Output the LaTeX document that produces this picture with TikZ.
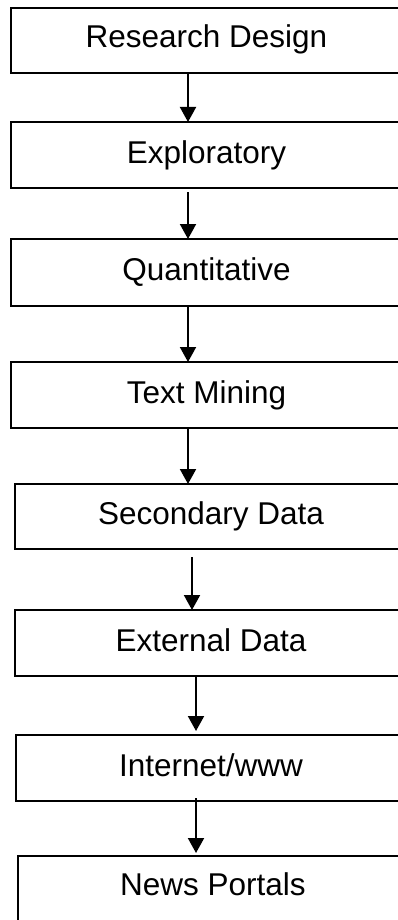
\documentclass[tikz,border=0pt]{standalone}
\usepackage{fontspec}
\setmainfont{Liberation Sans}
\usetikzlibrary{arrows.meta}
\begin{document}
\begin{tikzpicture}[x=1pt,y=-1pt,
  box/.style={draw=black, line width=2pt, rectangle, inner sep=0pt, outer sep=0pt,
    font=\fontsize{31.5}{37}\selectfont, text height=16pt, text depth=0pt},
  arr/.style={line width=2pt, -{Triangle[length=15pt,width=16pt]}}]
\clip (0,0) rectangle (398,920);
\node[box, minimum width=391pt, minimum height=65pt, text height=15pt] (b1) at (206.5,40.5) {Research Design};
\node[box, minimum width=391pt, minimum height=66pt, text height=17pt] (b2) at (206.5,155) {Exploratory};
\node[box, minimum width=391pt, minimum height=67pt] (b3) at (206.5,272.5) {Quantitative};
\node[box, minimum width=391pt, minimum height=66pt] (b4) at (206.5,395) {Text Mining};
\node[box, minimum width=392pt, minimum height=65pt] (b5) at (211,516.5) {Secondary Data};
\node[box, minimum width=392pt, minimum height=66pt] (b6) at (211,643) {External Data};
\node[box, minimum width=390pt, minimum height=66pt] (b7) at (211,768) {Internet/www};
\node[box, minimum width=390pt, minimum height=74pt, text height=12pt, text depth=7pt] (b8) at (213,893) {News Portals};
\coordinate (k1) at (188,0);
\coordinate (k2) at (192,0);
\coordinate (k3) at (196,0);
\draw[arr] (b1.south -| k1) -- (b2.north -| k1);
\draw[arr, shorten <=4pt] (b2.south -| k1) -- (b3.north -| k1);
\draw[arr] (b3.south -| k1) -- (b4.north -| k1);
\draw[arr] (b4.south -| k1) -- (b5.north -| k1);
\draw[arr, shorten <=8pt] (b5.south -| k2) -- (b6.north -| k2);
\draw[arr, shorten >=4pt] (b6.south -| k3) -- (b7.north -| k3);
\draw[arr, shorten <=-3pt, shorten >=3pt] (b7.south -| k3) -- (b8.north -| k3);
\end{tikzpicture}
\end{document}
